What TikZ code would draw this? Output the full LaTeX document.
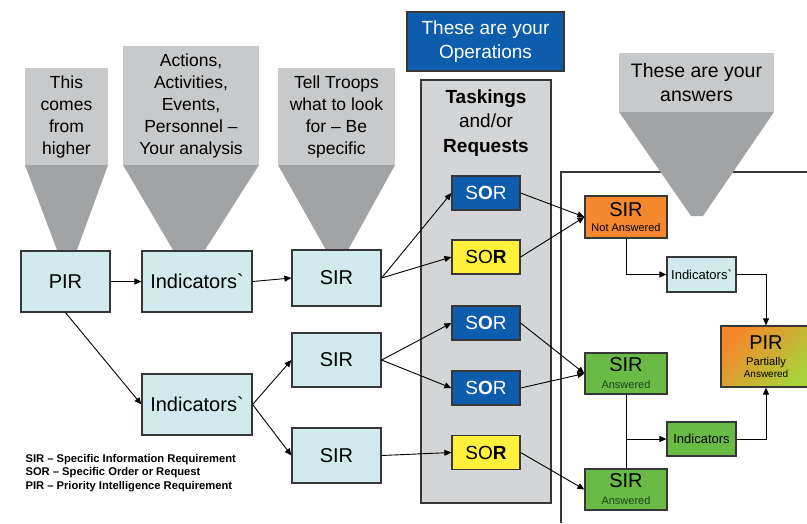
\documentclass[tikz,border=0pt]{standalone}
\usepackage{fontspec}
\setmainfont{Liberation Sans}
\usepackage{xcolor}
\usetikzlibrary{arrows.meta}
\definecolor{boxblue}{RGB}{208,234,238}
\definecolor{opblue}{RGB}{14,92,172}
\definecolor{soryellow}{RGB}{255,240,60}
\definecolor{sirorange}{RGB}{244,136,46}
\definecolor{sirgreen}{RGB}{106,187,70}
\definecolor{funnellight}{RGB}{200,201,202}
\definecolor{funneldark}{RGB}{162,163,165}
\definecolor{panelgray}{RGB}{212,213,214}
\definecolor{edgegray}{RGB}{55,55,55}
\definecolor{answergreen}{RGB}{25,70,25}
\definecolor{pirorange}{RGB}{245,135,40}
\definecolor{piryellow}{RGB}{242,210,50}
\definecolor{pirgreen}{RGB}{170,210,60}

\begin{document}
\begin{tikzpicture}[x=1pt,y=-1pt,
    box/.style={draw=edgegray,line width=1.2pt,inner sep=0pt,align=center},
    reqbox/.style={box,fill=boxblue,minimum width=89pt,font=\fontsize{20}{24}\selectfont},
    indbox/.style={box,fill=boxblue,minimum width=110pt,minimum height=61pt,font=\fontsize{20}{24}\selectfont},
    sorbox/.style={box,minimum width=68pt,minimum height=34pt,font=\fontsize{19}{22}\selectfont},
    ansbox/.style={box,minimum width=82pt,minimum height=41pt},
    smallind/.style={box,minimum width=69pt,minimum height=35pt,font=\fontsize{13}{15}\selectfont},
    funneltext/.style={align=center,font=\fontsize{17.5}{22}\selectfont},
    conn/.style={-{Triangle[length=7pt,width=6pt]},line width=0.9pt,black},
    link/.style={line width=0.9pt,black}]

    \useasboundingbox (0,0) rectangle (807,523);

%funnels
    \fill[funnellight] (25,68) rectangle (108,165);
    \fill[funneldark] (25,165) -- (108,165) -- (77,250) -- (57,250) -- cycle;
    \node[funneltext] (higher) at (66.5,116.5) {This\\comes\\from\\higher};

    \fill[funnellight] (123,46) rectangle (259,165);
    \fill[funneldark] (123,165) -- (259,165) -- (205,250) -- (173,250) -- cycle;
    \node[funneltext] (analysis) at (191,106) {Actions,\\Activities,\\Events,\\Personnel --\\Your analysis};

    \fill[funnellight] (278,68) rectangle (395,165);
    \fill[funneldark] (278,165) -- (395,165) -- (348,250) -- (326,250) -- cycle;
    \node[funneltext] (troops) at (336.5,116.5) {Tell Troops\\what to look\\for -- Be\\specific};

%operations
    \node[box,fill=opblue,text=white,minimum width=157pt,minimum height=59pt,
          font=\fontsize{19}{23.5}\selectfont] (ops) at (485.5,41.5) {These are your\\Operations};
    \draw[edgegray,fill=panelgray,line width=1.2pt] (421,80) rectangle (551,503);
    \node[align=center,font=\fontsize{19}{24.5}\selectfont] (taskings) at (486,123)
        {\textbf{Taskings}\\and/or\\\textbf{Requests}};

%answers
    \draw[edgegray,line width=1.2pt] (561,523) -- (561,172) -- (807,172);
    \fill[funnellight] (619,53) rectangle (774,112);
    \fill[funneldark] (619,112) -- (774,112) -- (703,216) -- (691,216) -- cycle;
    \node[align=center,font=\fontsize{19.5}{24}\selectfont] (answers) at (696.5,82.5) {These are your\\answers};

%requirements
    \node[reqbox,minimum height=61pt] (pir) at (65.5,281.5) {PIR};
    \node[indbox] (ind1) at (197,281.5) {Indicators\textasciigrave};
    \node[indbox] (ind2) at (197,404.5) {Indicators\textasciigrave};
    \node[reqbox,minimum height=56pt] (sir1) at (336.5,278) {SIR};
    \node[reqbox,minimum height=54pt] (sir2) at (336.5,360) {SIR};
    \node[reqbox,minimum height=55pt] (sir3) at (336.5,455.5) {SIR};

    \node[sorbox,fill=opblue,text=white] (sor1) at (486,193) {S\textbf{O}R};
    \node[sorbox,fill=soryellow] (sor2) at (486,257) {SO\textbf{R}};
    \node[sorbox,fill=opblue,text=white] (sor3) at (486,323) {S\textbf{O}R};
    \node[sorbox,fill=opblue,text=white] (sor4) at (486,388) {S\textbf{O}R};
    \node[sorbox,fill=soryellow] (sor5) at (486,452.5) {SO\textbf{R}};

    \node[ansbox,minimum height=42pt,fill=sirorange] (sirno) at (626,217)
        {{\fontsize{20}{20}\selectfont SIR}\\[3pt]\fontsize{11}{15}\selectfont Not Answered};
    \node[ansbox,fill=sirgreen] (sirok1) at (626,373.5)
        {{\fontsize{20}{20}\selectfont SIR}\\[5pt]\fontsize{11}{16.5}\selectfont\color{answergreen}Answered};
    \node[ansbox,fill=sirgreen] (sirok2) at (626,489.5)
        {{\fontsize{20}{20}\selectfont SIR}\\[5pt]\fontsize{11}{16.5}\selectfont\color{answergreen}Answered};
    \node[smallind,fill=boxblue] (indno) at (701.5,274.5) {Indicators\textasciigrave};
    \node[smallind,fill=sirgreen,minimum height=34pt] (indok) at (701.5,439) {Indicators};
    \node[box,minimum width=90pt,minimum height=61pt,left color=pirorange,middle color=piryellow,
          right color=pirgreen,shading angle=45] (pirpart) at (766,356.5)
        {{\fontsize{20}{20}\selectfont PIR}\\[4pt]\fontsize{11.2}{14}\selectfont Partially\\Answered};

%connectors
    \draw[conn] (pir) -- (ind1);
    \draw[conn] (pir.south) -- (ind2.west);
    \draw[conn] (ind1.east) -- (sir1.west);
    \draw[conn] (ind2.east) -- (sir2.west);
    \draw[conn] (ind2.east) -- (sir3.west);
    \draw[conn] (sir1.east) -- (sor1.west);
    \draw[conn] (sir1.east) -- (sor2.west);
    \draw[conn] (sir2.east) -- (sor3.west);
    \draw[conn] (sir2.east) -- (sor4.west);
    \draw[conn] (sir3.east) -- (sor5.west);
    \draw[conn] (sor1.east) -- (sirno.west);
    \draw[conn] (sor2.east) -- (sirno.west);
    \draw[conn] (sor3.east) -- (sirok1.west);
    \draw[conn] (sor4.east) -- (sirok1.west);
    \draw[conn] (sor5.east) -- (sirok2.west);
    \draw[conn] (sirno.south) |- (indno.west);
    \draw[conn] (indno.east) -| (pirpart.north);
    \draw[link] (sirok1.south) -- (sirok2.north);
    \coordinate (branch) at (sirok1.south |- indok.west);
    \draw[conn] (branch) -- (indok.west);
    \draw[conn] (indok.east) -| (pirpart.south);

%legend
    \node[anchor=west,align=left,font=\bfseries\fontsize{11.2}{13.5}\selectfont] (legend) at (22,473)
        {SIR -- Specific Information Requirement\\SOR -- Specific Order or Request\\PIR -- Priority Intelligence Requirement};

\end{tikzpicture}
\end{document}
